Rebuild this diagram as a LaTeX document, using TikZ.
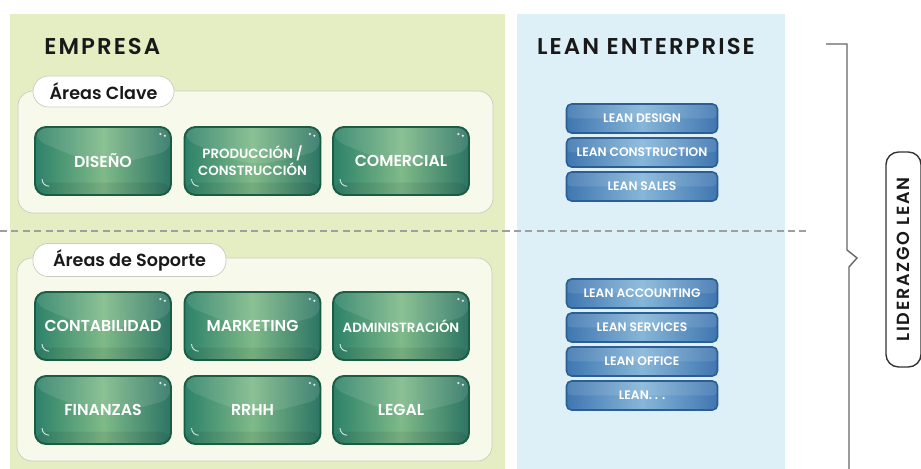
\documentclass[tikz,border=0pt]{standalone}
\usepackage{fontspec}
\setmainfont{Poppins}
\IfFontExistsTF{Poppins SemiBold}{%
  \newfontfamily\semifont{Poppins SemiBold}
  \newfontfamily\titlefont{Poppins SemiBold}[LetterSpace=9]
  \newfontfamily\liderfont{Poppins SemiBold}[LetterSpace=10]}{%
  \newfontfamily\semifont{Poppins}[UprightFeatures={FakeBold=1}]
  \newfontfamily\titlefont{Poppins}[LetterSpace=9]
  \newfontfamily\liderfont{Poppins}[LetterSpace=10]}
\usetikzlibrary{calc}

\definecolor{empresabg}{HTML}{E5EDC3}
\definecolor{leanbg}{HTML}{DDF0F8}
\definecolor{areabg}{HTML}{F7F9EB}
\definecolor{arealine}{HTML}{C9CCC0}
\definecolor{verdeosc}{HTML}{1B5C43}
\definecolor{verde}{HTML}{2D8169}
\definecolor{verdeder}{HTML}{2C7464}
\definecolor{verdeclaro}{HTML}{7FBA88}
\definecolor{azulosc}{HTML}{2C5D93}
\definecolor{azul}{HTML}{3F76B0}
\definecolor{azulclaro}{HTML}{86B6D8}
\definecolor{guia}{HTML}{666666}

\begin{document}
\begin{tikzpicture}[x=0.02cm, y=-0.02cm,
  titulo/.style = {font=\titlefont\fontsize{13}{15}\selectfont, text=black!90, inner sep=0pt},
  etiqueta/.style = {draw=arealine, fill=white, rounded corners=0.31cm, minimum height=0.62cm,
    font=\semifont\fontsize{10}{12}\selectfont, text=black!90},
  area/.style = {draw=arealine, fill=areabg, rounded corners=0.3cm},
  caja/.style = {draw=verdeosc, line width=1.1pt, rounded corners=0.22cm,
    minimum width=2.72cm, minimum height=1.36cm, align=center, text=white,
    left color=verde, right color=verdeder, middle color=verdeclaro,
    font=\semifont\fontsize{9}{11}\selectfont,
    path picture={
      \fill[white, opacity=.10] (path picture bounding box.north west) -- (path picture bounding box.north east)
        -- ([yshift=6pt]path picture bounding box.east) .. controls ([yshift=-4pt]path picture bounding box.center)
        .. ([yshift=12pt]path picture bounding box.west) -- cycle;
      \fill[black, opacity=.07] (path picture bounding box.south west) rectangle ([yshift=7pt]path picture bounding box.south east);
      \draw[white, opacity=.8, line width=.5pt] ([xshift=4pt,yshift=9pt]path picture bounding box.south west)
        arc[start angle=180, end angle=270, radius=4pt];
      \fill[white, opacity=.8] ([xshift=-6pt,yshift=-4pt]path picture bounding box.north east) circle (.7pt);
      \fill[white, opacity=.8] ([xshift=-3.5pt,yshift=-5pt]path picture bounding box.north east) circle (.7pt);
    }},
  cajalean/.style = {draw=azulosc, line width=.9pt, rounded corners=0.1cm,
    minimum width=3.02cm, minimum height=0.58cm, text=white,
    left color=azul, right color=azul, middle color=azulclaro,
    font=\semifont\fontsize{7}{8}\selectfont,
    path picture={
      \fill[white, opacity=.10] (path picture bounding box.north west) rectangle (path picture bounding box.east);
    }},
  lider/.style = {draw=black!80, fill=white, line width=.8pt, rounded corners=0.25cm,
    minimum width=4.3cm, minimum height=0.7cm, rotate=90,
    font=\liderfont\fontsize{10}{12}\selectfont, text=black!90}]
  \useasboundingbox (0,0) rectangle (921,469);

  % fondos
  \fill[empresabg] (10,14) rectangle (505,469);
  \fill[leanbg] (517,14) rectangle (785,469);
  \draw[area] (18,91) rectangle (493,213);
  \draw[area] (17,258) rectangle (492,461);

  \node[titulo, anchor=west] (empresa) at (44,46) {EMPRESA};
  \node[titulo] (enterprise) at (646,46) {LEAN ENTERPRISE};

  \node[etiqueta, minimum width=2.82cm] (clave) at (103.5,91.5) {Áreas Clave};
  \node[etiqueta, minimum width=3.86cm] (soporte) at (129.5,260) {Áreas de Soporte};

  % areas clave
  \node[caja] (diseno) at (103,161) {DISEÑO};
  \node[caja, font=\semifont\fontsize{7.6}{9.6}\selectfont] (produccion) at (252.5,161) {PRODUCCIÓN /\\CONSTRUCCIÓN};
  \node[caja] (comercial) at (401,161) {COMERCIAL};

  % areas de soporte
  \node[caja] (contabilidad) at (103,326) {CONTABILIDAD};
  \node[caja] (marketing) at (252.5,326) {MARKETING};
  \node[caja, font=\semifont\fontsize{7.6}{9}\selectfont] (administracion) at (401,326) {ADMINISTRACIÓN};
  \node[caja] (finanzas) at (103,410) {FINANZAS};
  \node[caja] (rrhh) at (252.5,410) {RRHH};
  \node[caja] (legal) at (401,410) {LEGAL};

  % lean
  \node[cajalean] (ldesign) at (642,118.5) {LEAN DESIGN};
  \node[cajalean] (lconstruction) at (642,152.5) {LEAN CONSTRUCTION};
  \node[cajalean] (lsales) at (642,186.5) {LEAN SALES};
  \node[cajalean] (laccounting) at (642,293.5) {LEAN ACCOUNTING};
  \node[cajalean] (lservices) at (642,327.5) {LEAN SERVICES};
  \node[cajalean] (loffice) at (642,361.5) {LEAN OFFICE};
  \node[cajalean] (lotros) at (642,395.5) {LEAN. . .};

  \draw[gray!75, line width=.7pt, dash pattern=on 4pt off 2.5pt] (0,231) -- (810,231);

  % llave
  \draw[guia, line width=.8pt] (826,44) -- (847,44) -- (847,250) -- (857,258) -- (849,267) -- (849,469);
  \node[lider] (liderazgo) at (903.5,259.5) {LIDERAZGO LEAN};
\end{tikzpicture}
\end{document}
